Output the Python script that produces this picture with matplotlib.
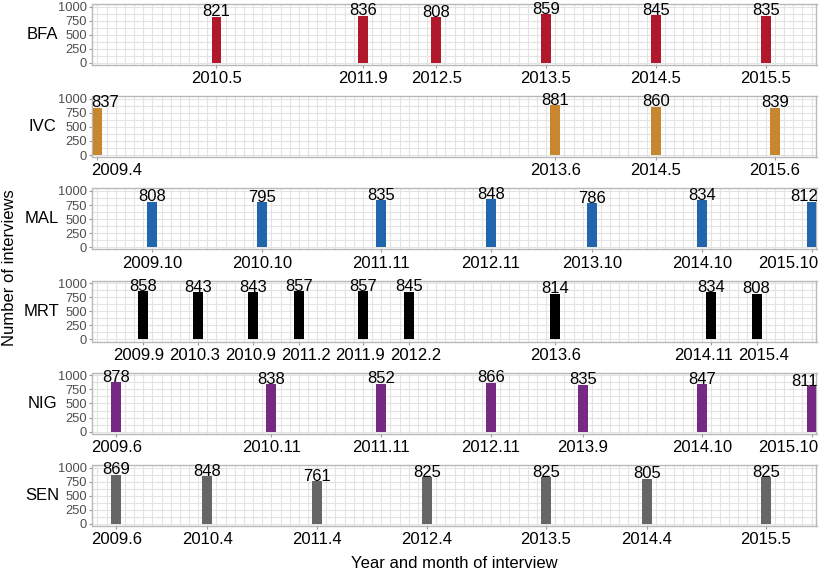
import matplotlib
matplotlib.use("Agg")
import matplotlib.pyplot as plt
import matplotlib.transforms as mtransforms
import numpy as np

plt.rcParams['font.family'] = ['Liberation Sans', 'DejaVu Sans']

countries = ["BFA", "IVC", "MAL", "MRT", "NIG", "SEN"]
colors = ["#B2182B", "#C8862E", "#2166AC", "#000000", "#762A83", "#666666"]

bfa_dates = ["2010.5", "2011.9", "2012.5", "2013.5", "2014.5", "2015.5"]
bfa_vals = [821, 836, 808, 859, 845, 835]
ivc_dates = ["2009.4", "2013.6", "2014.5", "2015.6"]
ivc_vals = [837, 881, 860, 839]
mal_dates = ["2009.10", "2010.10", "2011.11", "2012.11", "2013.10", "2014.10", "2015.10"]
mal_vals = [808, 795, 835, 848, 786, 834, 812]
mrt_dates = ["2009.9", "2010.3", "2010.9", "2011.2", "2011.9", "2012.2", "2013.6", "2014.11", "2015.4"]
mrt_vals = [858, 843, 843, 857, 857, 845, 814, 834, 808]
nig_dates = ["2009.6", "2010.11", "2011.11", "2012.11", "2013.9", "2014.10", "2015.10"]
nig_vals = [878, 838, 852, 866, 835, 847, 811]
sen_dates = ["2009.6", "2010.4", "2011.4", "2012.4", "2013.5", "2014.4", "2015.5"]
sen_vals = [869, 848, 761, 825, 825, 805, 825]

all_dates = [bfa_dates, ivc_dates, mal_dates, mrt_dates, nig_dates, sen_dates]
all_vals = [bfa_vals, ivc_vals, mal_vals, mrt_vals, nig_vals, sen_vals]


def to_num(s):
    y, m = s.split(".")
    return int(y) + (int(m) - 1) / 12.0


W_PX, H_PX = 820, 573
fig = plt.figure(figsize=(8.2, 5.73), dpi=100)
fig.patch.set_facecolor("white")

left_px, right_px = 92.5, 816.5
panel_h = 61.0
tops = [4 + i * 92.2 for i in range(6)]
bw = 0.09
xmin, xmax = 2009.25 - bw / 2, 2015.75 + bw / 2
months = np.arange(2009 * 12 + 3, 2015 * 12 + 10) / 12.0

grid_c = "#E3E3E3"
spine_c = "#B8B8B8"
EDGE = 818.0
LEFT_EDGE = 91.5
PAD = 5.0

axes = []
for i, (name, col, ds, vs) in enumerate(zip(countries, colors, all_dates, all_vals)):
    top = tops[i]
    ax = fig.add_axes([left_px / W_PX, 1 - (top + panel_h) / H_PX,
                       (right_px - left_px) / W_PX, panel_h / H_PX])
    axes.append(ax)
    x = [to_num(d) for d in ds]
    ax.set_axisbelow(True)
    ax.bar(x, vs, width=bw, color=col, zorder=3)
    for xi, v in zip(x, vs):
        ax.text(xi, v + 8, str(v), ha="center", va="baseline", fontsize=12,
                color="black", clip_on=False, zorder=4)
    ax.set_xlim(xmin, xmax)
    ax.set_ylim(-38, 1045)
    ax.set_xticks(x)
    ax.set_xticklabels(ds, fontsize=12, color="black")
    ax.set_xticks(months, minor=True)
    ax.set_yticks([0, 250, 500, 750, 1000])
    ax.set_yticklabels(["0", "250", "500", "750", "1000"], fontsize=9.3, color="#4D4D4D")
    ax.set_yticks([125, 375, 625, 875], minor=True)
    ax.grid(which="both", color=grid_c, linewidth=0.8, zorder=0)
    ax.tick_params(which="major", length=2.5, width=0.8, color="#999999", pad=2)
    ax.tick_params(which="minor", length=0)
    ax.tick_params(axis="y", pad=1.5)
    for sp in ax.spines.values():
        sp.set_color(spine_c)
        sp.set_linewidth(1.0)
    fig.text(42 / W_PX, 1 - (top + panel_h / 2) / H_PX, name, ha="center",
             va="center", fontsize=12, color="black")

fig.text(10 / W_PX, 1 - 268 / H_PX, "Number of interviews", rotation=90,
         ha="center", va="center", fontsize=12)
fig.text(454 / W_PX, 1 - 563 / H_PX, "Year and month of interview",
         ha="center", va="center", fontsize=12)

# keep texts inside the panel span and spread overlapping tick labels
fig.canvas.draw()
renderer = fig.canvas.get_renderer()
for ax in axes:
    for t in ax.texts:
        bb = t.get_window_extent(renderer)
        dx = 0.0
        if bb.x1 > EDGE:
            dx = EDGE - bb.x1
        elif bb.x0 < LEFT_EDGE:
            dx = LEFT_EDGE - bb.x0
        if dx != 0.0:
            x0, y0 = t.get_position()
            disp = ax.transData.transform((x0, y0))
            nx, _ = ax.transData.inverted().transform((disp[0] + dx, disp[1]))
            t.set_x(nx)
    labs = list(ax.get_xticklabels())
    bbs = [l.get_window_extent(renderer) for l in labs]
    order = np.argsort([b.x0 for b in bbs])
    labs = [labs[k] for k in order]
    x0s = np.array([bbs[k].x0 for k in order])
    x1s = np.array([bbs[k].x1 for k in order])
    s = np.zeros(len(labs))
    for _ in range(300):
        moved = False
        if x0s[0] + s[0] < LEFT_EDGE:
            s[0] = LEFT_EDGE - x0s[0]
        if x1s[-1] + s[-1] > EDGE:
            s[-1] = EDGE - x1s[-1]
        for k in range(len(labs) - 1):
            ov = (x1s[k] + s[k]) + PAD - (x0s[k + 1] + s[k + 1])
            if ov > 0.01:
                s[k] -= ov / 2
                s[k + 1] += ov / 2
                moved = True
        if not moved:
            break
    for lab, sh in zip(labs, s):
        if abs(sh) > 0.01:
            off = mtransforms.ScaledTranslation(sh / 100.0, 0, fig.dpi_scale_trans)
            lab.set_transform(lab.get_transform() + off)

fig.savefig("out.png", dpi=100)
